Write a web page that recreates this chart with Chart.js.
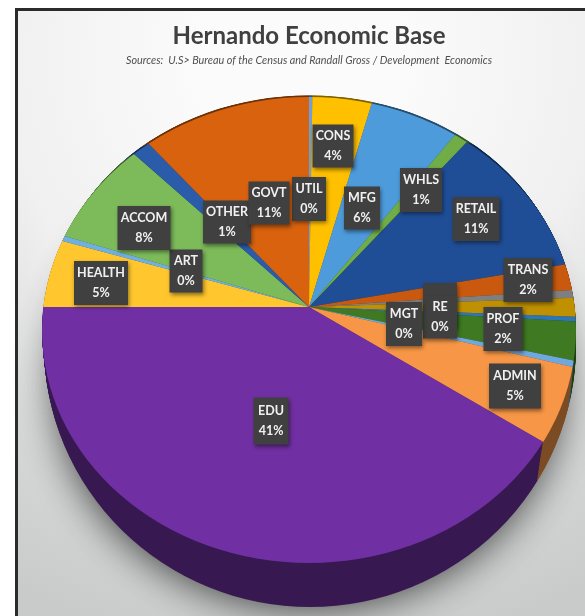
<!DOCTYPE html>
<html>
<head>
<meta charset="utf-8">
<title>Hernando Economic Base</title>
<script src="https://cdn.jsdelivr.net/npm/chart.js@4/dist/chart.umd.min.js"></script>
<style>
  html, body { margin: 0; padding: 0; background: #fff; }
  canvas { display: block; }
</style>
</head>
<body>
<canvas id="base" width="585" height="616"></canvas>
<script>
// Sector shares in percent, clockwise from twelve o'clock
const categories = ["UTIL", "CONS", "MFG", "WHLS", "RETAIL", "TRANS", "INFO", "FIN", "RE", "PROF", "MGT", "ADMIN", "EDU", "HEALTH", "ART", "ACCOM", "OTHER", "GOVT"];
const shares = [0.2, 3.6, 5.6, 0.9, 11.4, 2.0, 0.6, 1.3, 0.3, 2.4, 0.4, 4.9, 41.4, 5.2, 0.4, 7.7, 1.2, 10.5];
const sliceColors = ["#6f9fd8", "#ffc000", "#4e9bdc", "#70ad47", "#1f4e96", "#c9590f", "#7f7f7f", "#bf9000", "#2e75b6", "#3f7a22", "#6fa8dc", "#f79646", "#7030a3", "#ffc62e", "#6fb0e0", "#7dbb5a", "#2a5caa", "#d9620f"];

const titleText = "Hernando Economic Base";
const subtitleText = "Sources:  U.S> Bureau of the Census and Randall Gross / Development  Economics";

// Tag rectangles [centre x, centre y, width, height]; FIN has a blank tag tucked behind RE
const tagBoxes = {
  UTIL: [309, 199, 34, 44], CONS: [333, 146, 41, 43], MFG: [362, 208, 36, 43],
  WHLS: [421, 190, 42, 44], RETAIL: [476, 219, 47, 44], FIN: [440, 305, 34, 44],
  TRANS: [528, 280, 49, 44], PROF: [503, 329, 39, 44], MGT: [404, 324, 36, 44],
  RE: [440, 317, 34, 43], ADMIN: [515, 386, 52, 45], EDU: [271, 421, 35, 47],
  HEALTH: [101, 283, 54, 44], OTHER: [227, 222, 48, 43], ART: [186, 271, 33, 43],
  ACCOM: [144, 228, 53, 44], GOVT: [269, 203, 41, 43]
};
const unlabelled = ["INFO", "FIN"];

const APEX_Y = 307;
const RADIUS = 267;
const TITLE_SIZE = 24;
const SUB_SIZE = 10.8;
const PAD_TOP = 22;
const TITLE_GAP = 3;
const headerHeight = PAD_TOP + TITLE_SIZE * 1.2 + TITLE_GAP + SUB_SIZE * 1.2;

// Tilted disc: the far half is squashed more than the near half
const FAR_SQUASH = 0.79;
const NEAR_SQUASH = 0.96;
const RIM = { cx: 309, cy: 330, rx: 267, ry: 233 };
const DEPTH = { dx: -3, dy: 41, cx: 1, rx: -1, cy: 15, ry: 29, layers: 30 };

function paintDisc(chart, rim, dx, dy, filter) {
  const ctx = chart.ctx;
  const meta = chart.getDatasetMeta(0);
  const ax = meta.data[0].x, ay = meta.data[0].y;
  const halves = [
    { y: -100, h: ay + dy + 100, sx: 1.03, sy: 1.03 * FAR_SQUASH },
    { y: ay + dy, h: 800, sx: 1.08, sy: 1.08 * NEAR_SQUASH }
  ];
  ctx.save();
  ctx.beginPath();
  ctx.ellipse(rim.cx, rim.cy, rim.rx, rim.ry, 0, 0, Math.PI * 2);
  ctx.clip();
  if (filter) ctx.filter = filter;
  halves.forEach(function (half) {
    ctx.save();
    ctx.beginPath();
    ctx.rect(-100, half.y, 800, half.h);
    ctx.clip();
    ctx.translate(ax + dx, ay + dy);
    ctx.scale(half.sx, half.sy);
    ctx.translate(-ax, -ay);
    meta.controller.draw();
    ctx.restore();
  });
  ctx.restore();
}

const slideBackdrop = {
  id: "slideBackdrop",
  beforeDraw(chart) {
    const ctx = chart.ctx;
    ctx.save();
    ctx.fillStyle = "#ffffff";
    ctx.fillRect(0, 0, 585, 616);
    const glow = ctx.createRadialGradient(300, 60, 100, 300, 60, 600);
    glow.addColorStop(0, "#fbfbfb");
    glow.addColorStop(0.4, "#f0f0f0");
    glow.addColorStop(0.75, "#d5d6d6");
    glow.addColorStop(1, "#c9cbcb");
    ctx.fillStyle = glow;
    ctx.fillRect(17, 10, 568, 606);
    ctx.fillStyle = "#2b2b2b";
    ctx.fillRect(15, 8, 570, 3);
    ctx.fillRect(15, 8, 3, 608);
    // Soft cast shadow beneath the disc, kept clear of the far rim
    ctx.shadowColor = "rgba(30,30,30,0.85)";
    ctx.shadowBlur = 42;
    ctx.shadowOffsetY = 8;
    ctx.fillStyle = "#666666";
    ctx.beginPath();
    ctx.ellipse(RIM.cx, 372, RIM.rx - 14, 228, 0, 0, Math.PI * 2);
    ctx.fill();
    ctx.restore();
  }
};

const tiltedPie = {
  id: "tiltedPie",
  beforeDatasetsDraw(chart) {
    // Side wall: darkened copies stacked from the bottom edge up to the rim
    for (let i = DEPTH.layers; i >= 1; i--) {
      const t = i / DEPTH.layers;
      const rim = {
        cx: RIM.cx + DEPTH.cx * t,
        cy: RIM.cy + DEPTH.cy * t,
        rx: RIM.rx + DEPTH.rx * t,
        ry: RIM.ry + DEPTH.ry * t
      };
      paintDisc(chart, rim, DEPTH.dx * t, DEPTH.dy * t, "brightness(0.5)");
    }
    paintDisc(chart, RIM, 0, 0, null);
    return false;
  }
};

const valueTags = {
  id: "valueTags",
  afterDraw(chart) {
    const ctx = chart.ctx;
    ctx.save();
    ctx.textAlign = "center";
    ctx.textBaseline = "middle";
    const order = ["FIN"].concat(categories.filter(function (c) { return unlabelled.indexOf(c) < 0; }));
    order.forEach(function (name) {
      const box = tagBoxes[name];
      ctx.shadowColor = "rgba(0,0,0,0.45)";
      ctx.shadowBlur = 4;
      ctx.shadowOffsetX = 1;
      ctx.shadowOffsetY = 2;
      ctx.fillStyle = "#404040";
      ctx.fillRect(box[0] - box[2] / 2, box[1] - box[3] / 2, box[2], box[3]);
      ctx.shadowColor = "transparent";
      if (unlabelled.indexOf(name) >= 0) return;
      ctx.fillStyle = "#f0f0f0";
      ctx.font = "700 12.5px Lato, 'Open Sans', sans-serif";
      ctx.fillText(name, box[0], box[1] - 10);
      ctx.fillText(Math.round(shares[categories.indexOf(name)]) + "%", box[0], box[1] + 10);
    });
    ctx.restore();
  }
};

new Chart(document.getElementById("base"), {
  type: "pie",
  data: {
    labels: categories,
    datasets: [{
      data: shares,
      backgroundColor: sliceColors,
      borderWidth: 0,
      radius: RADIUS
    }]
  },
  options: {
    responsive: false,
    animation: false,
    layout: {
      padding: {
        left: 42,
        right: 9,
        top: PAD_TOP,
        bottom: 616 - (2 * APEX_Y - headerHeight)
      }
    },
    plugins: {
      legend: { display: false },
      tooltip: { enabled: false },
      title: {
        display: true,
        text: titleText,
        fullSize: false,
        color: "#404040",
        font: { family: "Lato, 'Open Sans', sans-serif", size: TITLE_SIZE, weight: "700" },
        padding: { top: 0, bottom: TITLE_GAP }
      },
      subtitle: {
        display: true,
        text: subtitleText,
        fullSize: false,
        color: "#505050",
        font: { family: "Lato, 'Open Sans', sans-serif", size: SUB_SIZE, style: "italic" },
        padding: 0
      }
    }
  },
  plugins: [slideBackdrop, tiltedPie, valueTags]
});
</script>
</body>
</html>
